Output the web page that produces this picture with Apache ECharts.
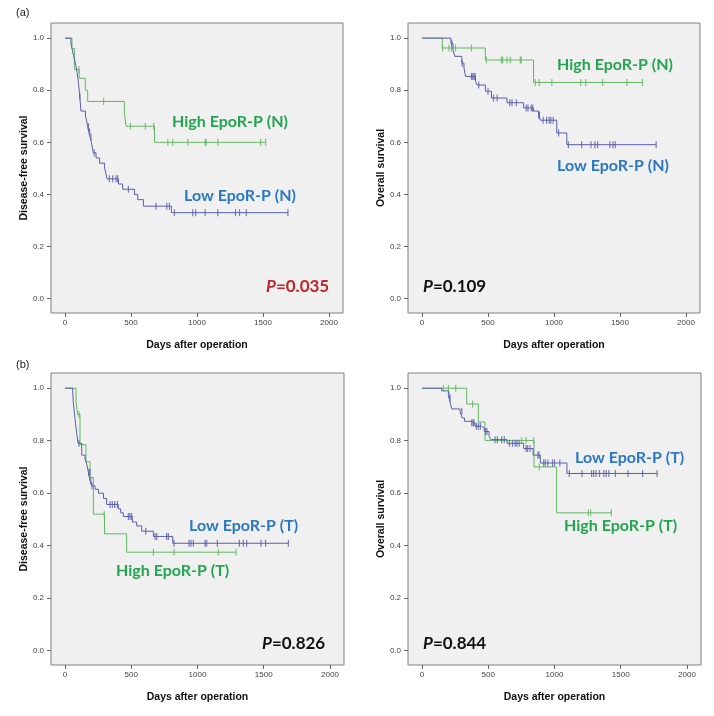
<!DOCTYPE html>
<html><head><meta charset="utf-8">
<script src="https://cdn.jsdelivr.net/npm/echarts@6/dist/echarts.min.js"></script>
<style>html,body{margin:0;padding:0;background:#fff}#c{width:714px;height:716px}</style>
</head><body><div id="c"></div><script>
// ---- tick labels ----
const xTicks = [0, 500, 1000, 1500, 2000];
const yTicks = [0, 0.2, 0.4, 0.6, 0.8, 1.0];

// ---- Panel a-left: Disease-free survival, normal tissue ----
const dfsHighN_times = [53, 71, 107, 154, 172, 450, 463, 678];
const dfsHighN_surv  = [0.96, 0.88, 0.846, 0.80, 0.757, 0.71, 0.662, 0.60];
const dfsHighN_cens  = [106, 293, 496, 609, 672, 779, 816, 930, 1062, 1070, 1158, 1482, 1520];

const dfsLowN_times = [45, 55, 65, 75, 85, 92, 98, 103, 108, 112, 121, 155, 165, 172, 180, 190, 200, 207, 215, 235, 262, 300, 310, 318, 405, 437, 526, 551, 594, 806];
const dfsLowN_surv  = [0.978, 0.956, 0.933, 0.911, 0.889, 0.867, 0.844, 0.822, 0.80, 0.778, 0.72, 0.70, 0.68, 0.66, 0.64, 0.62, 0.60, 0.58, 0.56, 0.54, 0.52, 0.50, 0.48, 0.46, 0.44, 0.42, 0.40, 0.38, 0.355, 0.33];
const dfsLowN_cens  = [112, 178, 186, 197, 220, 336, 361, 387, 399, 480, 690, 771, 791, 829, 968, 990, 1062, 1158, 1292, 1322, 1373, 1689];

// ---- Panel a-right: Overall survival, normal tissue ----
const osHighN_times = [154, 480, 845];
const osHighN_surv  = [0.962, 0.916, 0.83];
const osHighN_cens  = [156, 204, 224, 254, 375, 488, 601, 611, 644, 669, 745, 752, 858, 888, 984, 1202, 1240, 1368, 1552, 1670];

const osLowN_times = [219, 235, 248, 302, 318, 330, 405, 418, 480, 526, 644, 770, 845, 883, 896, 1021, 1097];
const osLowN_surv  = [0.98, 0.955, 0.93, 0.904, 0.885, 0.853, 0.834, 0.82, 0.796, 0.77, 0.752, 0.732, 0.72, 0.705, 0.685, 0.636, 0.591];
const osLowN_cens  = [225, 305, 375, 385, 395, 403, 430, 500, 542, 570, 665, 682, 715, 790, 803, 828, 838, 885, 890, 918, 944, 964, 976, 994, 1035, 1109, 1210, 1280, 1310, 1330, 1424, 1447, 1464, 1774];

// ---- Panel b-left: Disease-free survival, tumour tissue ----
const dfsLowT_times = [58, 62, 70, 78, 88, 98, 126, 151, 164, 176, 189, 201, 226, 252, 290, 314, 402, 420, 440, 508, 541, 579, 667, 813];
const dfsLowT_surv  = [0.986, 0.948, 0.91, 0.87, 0.83, 0.79, 0.745, 0.73, 0.711, 0.68, 0.646, 0.628, 0.615, 0.60, 0.58, 0.557, 0.54, 0.525, 0.511, 0.49, 0.475, 0.455, 0.435, 0.409];
const dfsLowT_cens  = [105, 180, 188, 195, 203, 340, 357, 375, 395, 478, 490, 503, 609, 679, 692, 767, 780, 823, 936, 951, 969, 1057, 1069, 1150, 1316, 1346, 1371, 1479, 1514, 1686];

const dfsHighT_times = [83, 95, 113, 158, 189, 214, 298, 465];
const dfsHighT_surv  = [0.95, 0.90, 0.785, 0.72, 0.66, 0.52, 0.445, 0.375];
const dfsHighT_cens  = [105, 296, 667, 823, 1157, 1291];

// ---- Panel b-right: Overall survival, tumour tissue ----
const osLowT_times = [148, 199, 205, 215, 225, 287, 302, 320, 362, 400, 450, 470, 506, 520, 642, 767, 838, 893, 1094];
const osLowT_surv  = [0.99, 0.975, 0.963, 0.938, 0.921, 0.912, 0.887, 0.874, 0.868, 0.855, 0.848, 0.835, 0.817, 0.804, 0.79, 0.77, 0.745, 0.715, 0.675];
const osLowT_cens  = [202, 212, 300, 375, 385, 392, 410, 425, 440, 480, 490, 551, 569, 601, 621, 660, 683, 703, 716, 733, 785, 797, 815, 875, 883, 918, 930, 950, 985, 1000, 1040, 1112, 1208, 1280, 1295, 1313, 1340, 1372, 1390, 1410, 1460, 1555, 1665, 1775];

const osHighT_times = [337, 425, 475, 845, 1016];
const osHighT_surv  = [0.94, 0.871, 0.801, 0.70, 0.525];
const osHighT_cens  = [161, 199, 254, 382, 752, 785, 843, 885, 1255, 1273, 1429];

// ---- texts ----
const yNames = ['Disease-free survival', 'Overall survival', 'Disease-free survival', 'Overall survival'];
const xName = 'Days after operation';
const pValues = ['0.035', '0.109', '0.826', '0.844'];

// ---------------------------------------------------------------
const GREEN_LINE = '#62b862', BLUE_LINE = '#5a5eaa';
const GREEN_TXT = '#25a552', BLUE_TXT = '#2b79c2';

function survAt(times, surv, t) {
  let s = 1;
  for (let i = 0; i < times.length; i++) if (times[i] <= t) s = surv[i];
  return s;
}
function lineData(times, surv, cens) {
  const d = [[0, 1]];
  times.forEach((t, i) => d.push([t, surv[i]]));
  const end = Math.max(times[times.length - 1], ...cens);
  d.push([end, surv[surv.length - 1]]);
  return d;
}
function censData(times, surv, cens) {
  return cens.map(t => [t, survAt(times, surv, t)]);
}

const grids = [
  {left: 51, top: 23, width: 292, height: 290},
  {left: 408, top: 23, width: 292, height: 290},
  {left: 51, top: 373, width: 293, height: 292},
  {left: 408, top: 373, width: 293, height: 292}
];
const curves = [
  [[dfsHighN_times, dfsHighN_surv, dfsHighN_cens, GREEN_LINE], [dfsLowN_times, dfsLowN_surv, dfsLowN_cens, BLUE_LINE]],
  [[osHighN_times, osHighN_surv, osHighN_cens, GREEN_LINE], [osLowN_times, osLowN_surv, osLowN_cens, BLUE_LINE]],
  [[dfsHighT_times, dfsHighT_surv, dfsHighT_cens, GREEN_LINE], [dfsLowT_times, dfsLowT_surv, dfsLowT_cens, BLUE_LINE]],
  [[osHighT_times, osHighT_surv, osHighT_cens, GREEN_LINE], [osLowT_times, osLowT_surv, osLowT_cens, BLUE_LINE]]
];

const option = {
  animation: false,
  backgroundColor: '#fff',
  grid: grids.map(g => Object.assign({show: true, backgroundColor: '#f0f0f0', borderColor: '#808080', borderWidth: 1}, g)),
  xAxis: grids.map((g, i) => ({
    type: 'value', gridIndex: i, min: -106, max: 2106, position: 'bottom',
    name: xName, nameLocation: 'middle', nameGap: 27, nameMoveOverlap: false,
    nameTextStyle: {fontFamily: 'Liberation Sans', fontWeight: 'bold', fontSize: 10.5, color: '#111'},
    axisLine: {show: false, onZero: false},
    axisTick: {show: true, length: 4, customValues: xTicks, lineStyle: {color: '#666'}},
    axisLabel: {customValues: xTicks, fontSize: 8, color: '#444', margin: 6, fontFamily: 'Liberation Sans',
      formatter: v => String(v)},
    splitLine: {show: false}
  })),
  yAxis: grids.map((g, i) => ({
    type: 'value', gridIndex: i, min: -0.055, max: 1.058, position: 'left',
    name: yNames[i], nameLocation: 'middle', nameGap: 21, nameRotate: 90, nameMoveOverlap: false,
    nameTextStyle: {fontFamily: 'Liberation Sans', fontWeight: 'bold', fontSize: 10.5, color: '#111'},
    axisLine: {show: false, onZero: false},
    axisTick: {show: true, length: 4, customValues: yTicks, lineStyle: {color: '#666'}},
    axisLabel: {customValues: yTicks, fontSize: 8, color: '#444', margin: 7, fontFamily: 'Liberation Sans',
      formatter: v => v.toFixed(1)},
    splitLine: {show: false}
  })),
  series: [],
  graphic: []
};

curves.forEach((pair, gi) => {
  pair.forEach(([times, surv, cens, color]) => {
    option.series.push({
      type: 'line', xAxisIndex: gi, yAxisIndex: gi, step: 'end', symbol: 'none',
      lineStyle: {color, width: 1}, data: lineData(times, surv, cens), z: 2
    });
    option.series.push({
      type: 'scatter', xAxisIndex: gi, yAxisIndex: gi, symbol: 'rect', symbolSize: [1.2, 7],
      itemStyle: {color}, data: censData(times, surv, cens), z: 3
    });
  });
});

function label(x, y, text, fill) {
  return {type: 'text', x, y, z: 10, style: {text, fill, font: 'bold 16px Lato', verticalAlign: 'middle', align: 'left'}};
}
function pLabel(x, y, val, fill) {
  return {type: 'text', x, y, z: 10, style: {
    text: '{i|P}{n|=' + val + '}', verticalAlign: 'middle', align: 'left',
    rich: {
      i: {fontStyle: 'italic', fontWeight: 'bold', fontSize: 17, fontFamily: 'Lato', fill},
      n: {fontWeight: 'bold', fontSize: 17, fontFamily: 'Lato', fill}
    }
  }};
}
option.graphic = [
  {type: 'text', x: 16, y: 13, style: {text: '(a)', font: '11px Liberation Sans', fill: '#222', verticalAlign: 'middle'}},
  {type: 'text', x: 16, y: 365, style: {text: '(b)', font: '11px Liberation Sans', fill: '#222', verticalAlign: 'middle'}},
  label(172, 122, 'High EpoR-P (N)', GREEN_TXT),
  label(184, 196, 'Low EpoR-P (N)', BLUE_TXT),
  pLabel(266, 287, pValues[0], '#c0272d'),
  label(557, 65, 'High EpoR-P (N)', GREEN_TXT),
  label(557, 166, 'Low EpoR-P (N)', BLUE_TXT),
  pLabel(423, 287, pValues[1], '#111'),
  label(189, 526, 'Low EpoR-P (T)', BLUE_TXT),
  label(116, 571, 'High EpoR-P (T)', GREEN_TXT),
  pLabel(262, 644, pValues[2], '#111'),
  label(575, 458, 'Low EpoR-P (T)', BLUE_TXT),
  label(564, 526, 'High EpoR-P (T)', GREEN_TXT),
  pLabel(423, 644, pValues[3], '#111')
];

const chart = echarts.init(document.getElementById('c'), null, {renderer: 'canvas'});
chart.setOption(option);
</script></body></html>
